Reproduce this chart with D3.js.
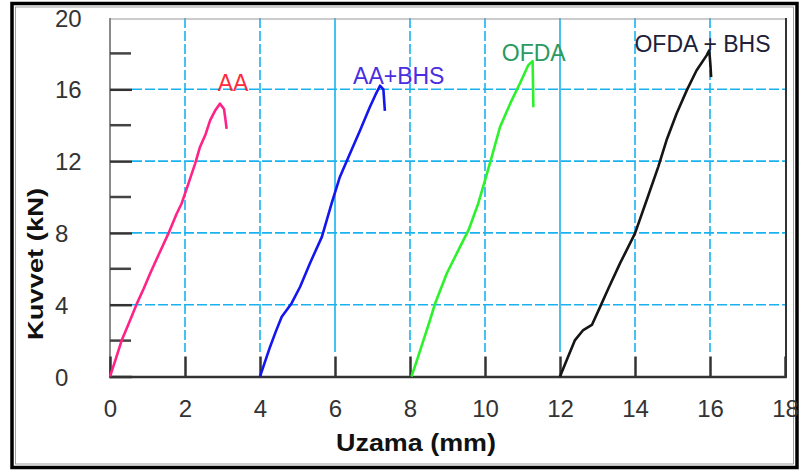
<!DOCTYPE html>
<html><head><meta charset="utf-8">
<script src="https://cdn.jsdelivr.net/npm/d3@7"></script>
<style>html,body{margin:0;padding:0;background:#fff;}svg{display:block;}</style>
</head><body>
<svg id="c" width="803" height="473"></svg>
<script>
// ---- data ----
const xTicks = [0, 2, 4, 6, 8, 10, 12, 14, 16, 18];
const yTicks = [0, 4, 8, 12, 16, 20];
const yMinorTicks = [2, 6, 10, 14, 18];
const seriesNames = ["AA", "AA+BHS", "OFDA", "OFDA + BHS"];
const aaX  = [0, 0.15, 0.31, 0.5, 0.71, 0.9, 1.07, 1.3, 1.55, 1.78, 1.91, 2.1, 2.27, 2.4, 2.55, 2.67, 2.8, 2.93, 3.04, 3.08, 3.11];
const aaY  = [0, 0.95, 2.0, 2.95, 4.03, 4.9, 5.74, 6.8, 7.93, 9.08, 9.64, 10.8, 11.86, 12.79, 13.5, 14.27, 14.8, 15.2, 14.9, 14.3, 13.8];
const abX  = [4.0, 4.13, 4.27, 4.42, 4.58, 4.84, 5.07, 5.33, 5.65, 5.91, 6.13, 6.4, 6.67, 6.93, 7.08, 7.2, 7.29, 7.31, 7.33];
const abY  = [0, 0.8, 1.66, 2.5, 3.33, 4.07, 5.0, 6.3, 7.78, 9.64, 11.12, 12.42, 13.72, 15.01, 15.7, 16.2, 16.0, 15.4, 14.8];
const ofX  = [8.04, 8.2, 8.36, 8.52, 8.67, 8.98, 9.29, 9.56, 9.82, 10.0, 10.18, 10.4, 10.67, 10.93, 11.15, 11.27, 11.28, 11.29];
const ofY  = [0, 1.0, 2.03, 3.05, 4.07, 5.74, 7.04, 8.15, 9.64, 10.93, 12.23, 13.9, 15.2, 16.32, 17.33, 17.57, 16.3, 15.0];
const obX  = [12.0, 12.18, 12.4, 12.62, 12.85, 13.07, 13.29, 13.6, 14.0, 14.31, 14.62, 14.84, 15.11, 15.38, 15.64, 15.91, 15.98, 16.01, 16.03];
const obY  = [0, 0.92, 2.03, 2.59, 2.87, 3.88, 4.9, 6.3, 7.97, 9.82, 11.68, 13.16, 14.65, 15.94, 17.05, 17.89, 18.17, 17.4, 16.68];
const labelPos = [[3.28, 15.9], [7.7, 16.3], [11.3, 17.6], [15.8, 18.1]];
const xTitle = "Uzama (mm)";
const yTitle = "Kuvvet (kN)";

// ---- styles ----
const colors = ["#ff2288", "#1515f0", "#2cf22c", "#151515"];
const labelColors = ["#ff2a3a", "#4a2ee0", "#2a9a60", "#20203a"];
const gridColor = "#1ab2ee";

const svg = d3.select("#c");
const L = 110, R = 786, T = 18, B = 376.5;
const x = d3.scaleLinear().domain([0, 18]).range([L, 785]);
const y = d3.scaleLinear().domain([0, 20]).range([B, 17.5]);

// outer frame
svg.append("rect").attr("x", 12).attr("y", 3.5).attr("width", 785).attr("height", 464)
  .attr("fill", "none").attr("stroke", "#000").attr("stroke-width", 3.5);
svg.append("rect").attr("x", 15.5).attr("y", 7).attr("width", 778).attr("height", 457)
  .attr("fill", "none").attr("stroke", "#888").attr("stroke-width", 0.8);

// grid
const vDash = {2:"10,3",4:"10,3",6:null,8:"10,3",10:"10,3",12:null,14:"10,3",16:"10,3"};
svg.append("g").selectAll("line").data(xTicks.filter(d => d > 0 && d < 18)).join("line")
  .attr("x1", d => x(d)).attr("x2", d => x(d)).attr("y1", T).attr("y2", 352)
  .attr("stroke", gridColor).attr("stroke-width", 1.6)
  .attr("stroke-dasharray", d => vDash[d]);
svg.append("g").selectAll("line").data(yTicks.filter(d => d > 0 && d < 20)).join("line")
  .attr("x1", 132).attr("x2", R).attr("y1", d => y(d)).attr("y2", d => y(d))
  .attr("stroke", gridColor).attr("stroke-width", 1.6)
  .attr("stroke-dasharray", "10,3");

// plot frame
svg.append("line").attr("x1", L).attr("x2", R).attr("y1", 19).attr("y2", 19).attr("stroke", "#999").attr("stroke-width", 1.2);
svg.append("line").attr("x1", R).attr("x2", R).attr("y1", 18).attr("y2", B + 1).attr("stroke", "#333").attr("stroke-width", 2);
svg.append("line").attr("x1", L).attr("x2", L).attr("y1", 18).attr("y2", B + 1).attr("stroke", "#8a8a8a").attr("stroke-width", 2);

// axes via d3
const xAxis = d3.axisBottom(x).tickValues(xTicks).tickSize(-20).tickPadding(24).tickFormat(d3.format("d"));
const gx = svg.append("g").attr("transform", `translate(0,${B})`).call(xAxis);
gx.select(".domain").attr("stroke", "#333").attr("stroke-width", 2.5);
gx.selectAll(".tick line").attr("stroke", "#333").attr("stroke-width", 2.5);
gx.selectAll(".tick text").attr("font-family", "Liberation Sans, Arial, sans-serif")
  .attr("font-size", 24).attr("fill", "#333").attr("dy", "0.7em");
gx.selectAll(".tick").filter(d => d === 0 || d === 18).select("line").remove();

const yAxis = d3.axisLeft(y).tickValues(yTicks).tickSize(-22).tickPadding(0).tickFormat(d3.format("d"));
const gy = svg.append("g").attr("transform", `translate(${L},0)`).call(yAxis);
gy.select(".domain").remove();
gy.selectAll(".tick line").attr("stroke", "#333").attr("stroke-width", 2.5);
gy.selectAll(".tick").filter(d => d === 20).select("line").remove();
gy.selectAll(".tick text").attr("font-family", "Liberation Sans, Arial, sans-serif")
  .attr("font-size", 24).attr("fill", "#333").attr("text-anchor", "start")
  .attr("x", 55 - L).attr("dy", "0.36em");
svg.append("g").selectAll("line").data(yMinorTicks).join("line")
  .attr("x1", L).attr("x2", L + 21).attr("y1", d => y(d)).attr("y2", d => y(d))
  .attr("stroke", "#444").attr("stroke-width", 2.5);

// curves
const series = [[aaX, aaY], [abX, abY], [ofX, ofY], [obX, obY]];
const line = d3.line().x(d => x(d[0])).y(d => y(d[1])).curve(d3.curveLinear);
series.forEach((s, i) => {
  const pts = s[0].map((v, k) => [v, s[1][k]]);
  svg.append("path").datum(pts).attr("d", line).attr("fill", "none")
    .attr("stroke", colors[i]).attr("stroke-width", 2.6).attr("stroke-linejoin", "round");
});

// series labels
svg.append("g").selectAll("text").data(seriesNames).join("text")
  .attr("x", (d, i) => x(labelPos[i][0])).attr("y", (d, i) => y(labelPos[i][1]))
  .attr("text-anchor", "middle").attr("font-family", "Liberation Sans, Arial, sans-serif")
  .attr("font-size", 23).attr("fill", (d, i) => labelColors[i]).text(d => d);

// titles
svg.append("text").attr("x", 416).attr("y", 451).attr("text-anchor", "middle")
  .attr("font-family", "Liberation Sans, Arial, sans-serif").attr("font-weight", "bold")
  .attr("font-size", 24).attr("fill", "#111")
  .attr("textLength", 160).attr("lengthAdjust", "spacingAndGlyphs").text(xTitle);
svg.append("text").attr("transform", "translate(43,264) rotate(-90)").attr("text-anchor", "middle")
  .attr("font-family", "Liberation Sans, Arial, sans-serif").attr("font-weight", "bold")
  .attr("font-size", 22).attr("fill", "#111")
  .attr("textLength", 152).attr("lengthAdjust", "spacingAndGlyphs").text(yTitle);
</script>
</body></html>
